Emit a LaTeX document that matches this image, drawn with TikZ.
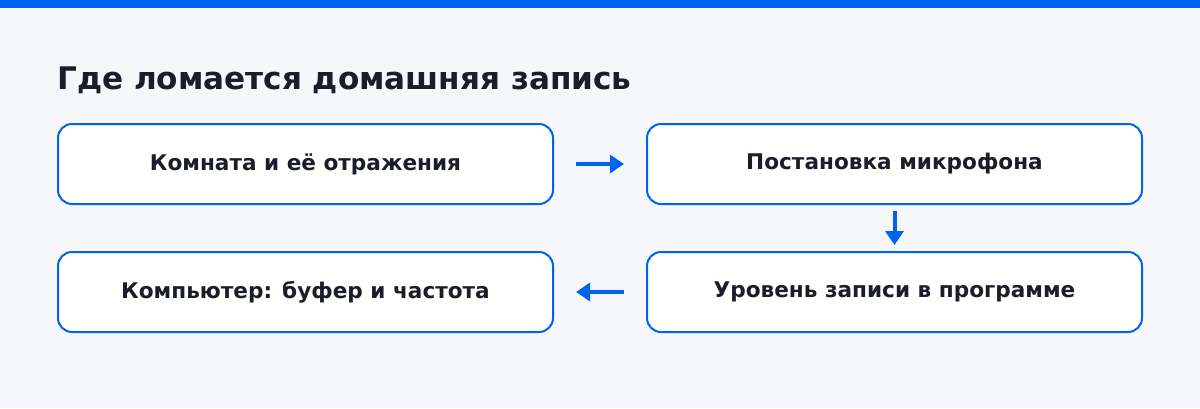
\documentclass[tikz,border=0pt]{standalone}
\usepackage{fontspec}
\setmainfont{DejaVu Sans}
\usepackage{tikz}
\usetikzlibrary{positioning, arrows.meta}
\definecolor{bgpage}{HTML}{F6F7FB}
\definecolor{accent}{HTML}{0062F2}
\definecolor{ink}{HTML}{1B1D2B}
\tikzstyle{bx}=[%
      rectangle, rounded corners=14pt, draw=accent, line width=2pt, fill=white,
      text=ink, font=\bfseries\fontsize{21.6}{26}\selectfont,
      minimum height=80pt, minimum width=495pt, inner sep=0pt, align=center
]
\tikzstyle{ar}=[%
      draw=accent, line width=4pt, -{Triangle[length=14pt,width=18pt]}
]
\begin{document}
\begin{tikzpicture}[x=1pt, y=-1pt]
    \fill[bgpage] (0,0) rectangle (1200,408);
    \fill[accent] (0,0) rectangle (1200,8);
    \useasboundingbox (0,0) rectangle (1200,408);

    \node[anchor=base west, inner sep=0pt, text=ink, font=\bfseries\fontsize{31.1}{37}\selectfont]
          (title) at (57,89) {Где ломается домашняя запись};

    \node[bx] (1) at (305.5,164)   {Комната и её отражения};
    \node[bx] (2) [right = 92pt of 1] {Постановка микрофона};
    \node[bx] (3) [below = 46pt of 2] {Уровень записи в программе};
    \node[bx] (4) [left = 92pt of 3]  {Компьютер: буфер и частота};

    \draw[ar, shorten <=22pt, shorten >=22pt] (1) -- (2);
    \draw[ar, shorten <=6pt, shorten >=6pt] (2) -- (3);
    \draw[ar, shorten <=22pt, shorten >=22pt] (3) -- (4);
\end{tikzpicture}
\end{document}
